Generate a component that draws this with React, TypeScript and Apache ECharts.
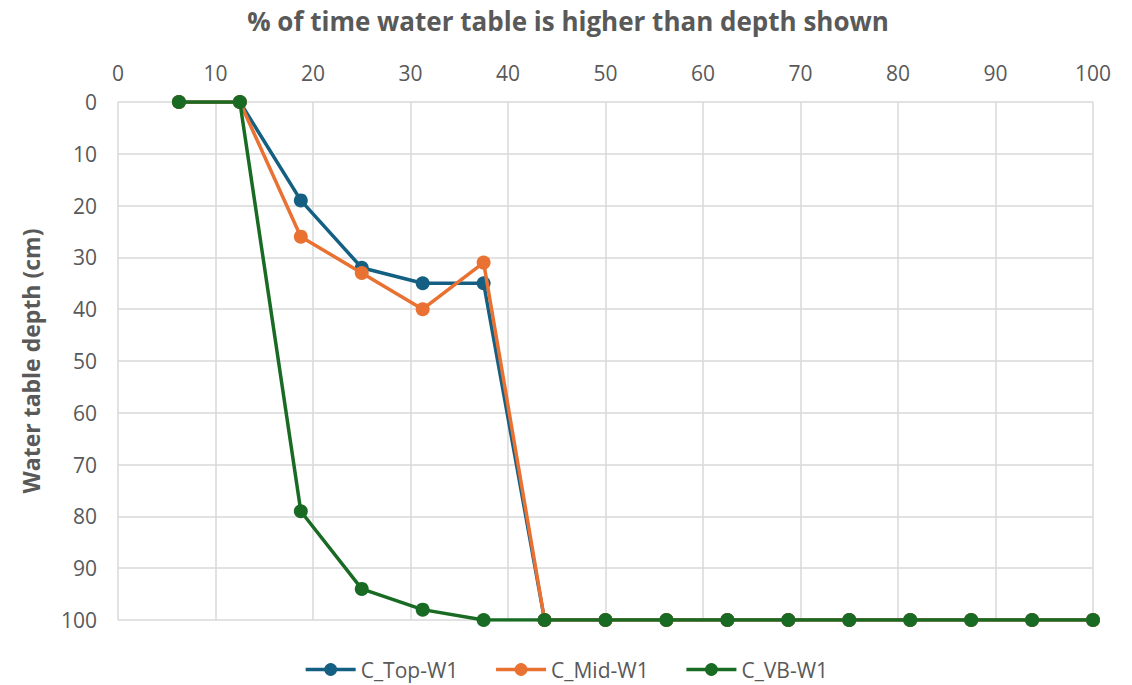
import React, { useEffect, useRef } from "react";
import * as echarts from "echarts";

const xValues = [6.25, 12.5, 18.75, 25, 31.25, 37.5, 43.75, 50, 56.25, 62.5, 68.75, 75, 81.25, 87.5, 93.75, 100];
const topW1 = [0, 0, 19, 32, 35, 35, 100, 100, 100, 100, 100, 100, 100, 100, 100, 100];
const midW1 = [0, 0, 26, 33, 40, 31, 100, 100, 100, 100, 100, 100, 100, 100, 100, 100];
const vbW1 = [0, 0, 79, 94, 98, 100, 100, 100, 100, 100, 100, 100, 100, 100, 100, 100];
const seriesNames = ["C_Top-W1", "C_Mid-W1", "C_VB-W1"];
const seriesColors = ["#156082", "#E97132", "#196B24"];
const titleText = "% of time water table is higher than depth shown";
const yAxisTitle = "Water table depth (cm)";

const FONT = "'Open Sans', 'Noto Sans', sans-serif";

export default function App() {
  const ref = useRef<HTMLDivElement>(null);
  useEffect(() => {
    if (!ref.current) return;
    const chart = echarts.init(ref.current, undefined, { renderer: "svg" });
    const allData = [topW1, midW1, vbW1];
    chart.setOption({
      animation: false,
      backgroundColor: "#ffffff",
      title: {
        text: titleText,
        left: 563,
        top: 3,
        textAlign: "center",
        textStyle: { fontFamily: FONT, fontSize: 26, fontWeight: "bold", color: "#595959" },
      },
      legend: {
        bottom: 0,
        left: "center",
        itemWidth: 50,
        itemHeight: 16,
        itemGap: 36,
        lineStyle: { width: 3.5 },
        textStyle: { fontFamily: FONT, fontSize: 21, color: "#595959" },
        data: seriesNames,
      },
      grid: { left: 118, right: 39, top: 102, bottom: 65, containLabel: false },
      xAxis: {
        type: "value",
        position: "top",
        min: 0,
        max: 100,
        interval: 10,
        axisLine: { show: false },
        axisTick: { show: false },
        axisLabel: { fontFamily: FONT, fontSize: 21, color: "#595959", margin: 19 },
        splitLine: { show: true, lineStyle: { color: "#d9d9d9", width: 1.5 } },
      },
      yAxis: {
        type: "value",
        inverse: true,
        min: 0,
        max: 100,
        interval: 10,
        name: yAxisTitle,
        nameLocation: "middle",
        nameGap: 76,
        nameTextStyle: { fontFamily: FONT, fontSize: 23, fontWeight: "bold", color: "#595959" },
        axisLine: { show: false },
        axisTick: { show: false },
        axisLabel: { fontFamily: FONT, fontSize: 21, color: "#595959", margin: 21 },
        splitLine: { show: true, lineStyle: { color: "#d9d9d9", width: 1.5 } },
      },
      series: seriesNames.map((name, i) => ({
        name,
        type: "line",
        data: xValues.map((x, j) => [x, allData[i][j]]),
        symbol: "circle",
        symbolSize: 14,
        itemStyle: { color: seriesColors[i] },
        lineStyle: { color: seriesColors[i], width: 3.5 },
        z: 2 + i,
      })),
    });
    return () => chart.dispose();
  }, []);
  return <div ref={ref} style={{ width: 1132, height: 685, position: "absolute", left: 0, top: 0 }} />;
}
